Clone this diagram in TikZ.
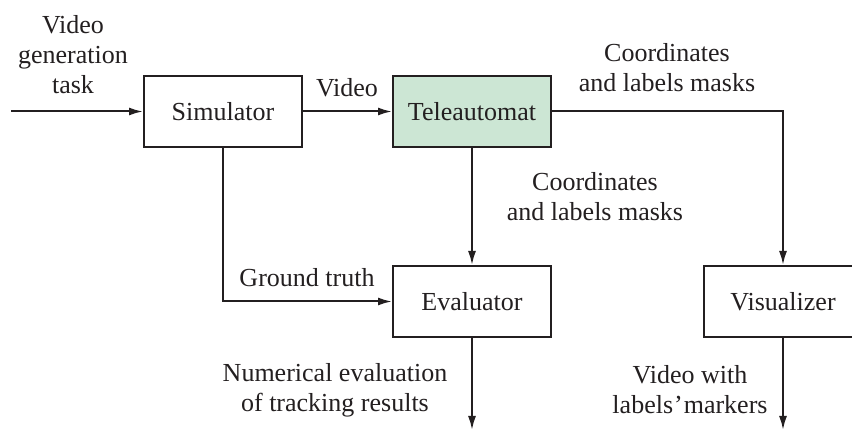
\documentclass[tikz,border=0pt]{standalone}
\usepackage{fontspec}
\setmainfont{Liberation Serif}
\usetikzlibrary{arrows.meta}
\definecolor{boxgreen}{HTML}{CCE6D4}
\definecolor{ink}{HTML}{231F20}
\begin{document}
\begin{tikzpicture}[x=1pt,y=-1pt,
  font=\fontsize{26}{30}\selectfont,
  block/.style={draw=ink,line width=2pt,minimum width=158pt,minimum height=71pt,inner sep=0pt,text=ink},
  flow/.style={draw=ink,line width=2pt,-{Latex[length=14pt,width=8pt]}},
  tag/.style={align=center,inner sep=0pt,text=ink}]
\useasboundingbox (0,0) rectangle (852,430);
\clip (0,0) rectangle (852,430);
% processing blocks
\node[block] (sim) at (223,111.5) {Simulator};
\node[block,fill=boxgreen] (tele) at (472,111.5) {Teleautomat};
\node[block] (eval) at (472,301.5) {Evaluator};
\node[block] (vis) at (783,301.5) {Visualizer};
% free ends
\coordinate (in) at (11,111.5);
\coordinate (evout) at (472,430);
\coordinate (visout) at (783,430);
% connectors
\draw[flow] (in) -- (sim);
\draw[flow] (sim) -- (tele);
\draw[flow] (tele) -- (eval);
\draw[flow] (tele.east) -| (vis.north);
\draw[flow] (sim.south) |- (eval.west);
\draw[flow] (eval) -- (evout);
\draw[flow] (vis) -- (visout);
% labels
\node[tag] (l1) at (73,55) {Video\\generation\\task};
\node[tag] (l2) at (347,88) {Video};
\node[tag] (l3) at (667,68) {Coordinates\\and labels masks};
\node[tag] (l4) at (595,197) {Coordinates\\and labels masks};
\node[tag] (l5) at (307,278) {Ground truth};
\node[tag] (l6) at (335,390) {Numerical evaluation\\of tracking results};
\node[tag] (l7) at (690,390) {Video with\\labels\kern1pt’\kern1pt markers};
\end{tikzpicture}
\end{document}
